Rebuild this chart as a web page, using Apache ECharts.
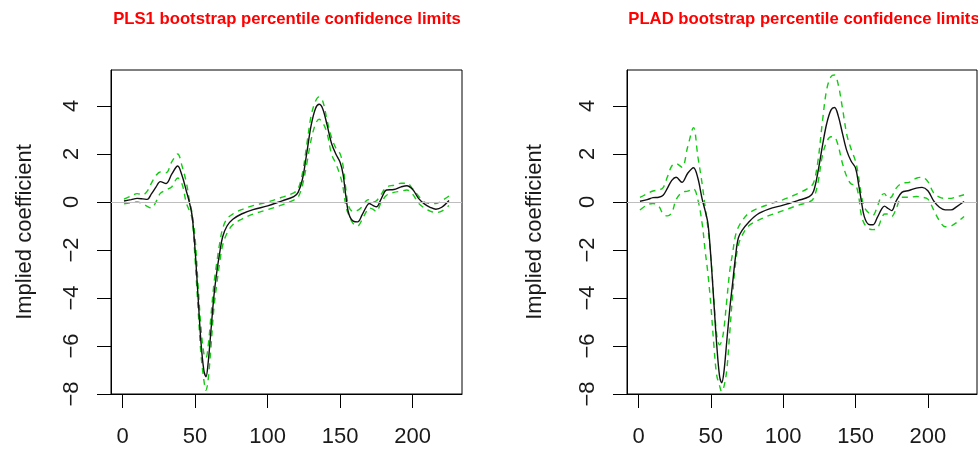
<!DOCTYPE html>
<html>
<head>
<meta charset="utf-8">
<script src="https://cdn.jsdelivr.net/npm/echarts@6/dist/echarts.min.js"></script>
<style>
html,body{margin:0;padding:0;background:#fff;}
#chart{width:978px;height:450px;}
</style>
</head>
<body>
<div id="chart"></div>
<script>
const panelTitles = ['PLS1 bootstrap percentile confidence limits', 'PLAD bootstrap percentile confidence limits'];
const yAxisTitle = 'Implied coefficient';
const xTicks = [0, 50, 100, 150, 200];
const yTicks = [-8, -6, -4, -2, 0, 2, 4];

const xIndex = [1, 6, 10, 14, 17, 20, 23, 26, 30, 34, 38, 41, 44, 46, 48, 50, 52, 54, 56, 57.5, 59, 61, 63, 65, 67, 69, 72, 76, 82, 90, 100, 110, 118, 121, 124, 127, 130, 133, 135.5, 138, 141, 144, 147, 150, 152, 154, 156, 159, 162, 165, 168, 170, 172.5, 175, 178, 182, 187, 192, 196, 200, 204, 208, 212, 216, 220, 225];

const pls1Est = [0.04, 0.1, 0.15, 0.13, 0.11, 0.35, 0.62, 0.85, 0.77, 1.17, 1.5, 1.1, 0.45, 0.0, -0.6, -2.0, -3.9, -5.8, -7.0, -7.28, -6.7, -5.3, -3.9, -2.9, -2.1, -1.45, -1.0, -0.72, -0.5, -0.32, -0.16, 0.05, 0.22, 0.4, 0.95, 2.05, 3.2, 3.9, 4.07, 3.88, 3.2, 2.45, 2.0, 1.65, 1.15, 0.2, -0.5, -0.8, -0.83, -0.55, -0.2, -0.06, -0.14, -0.2, 0.1, 0.5, 0.52, 0.63, 0.68, 0.52, 0.15, -0.08, -0.22, -0.3, -0.22, 0.06];
const pls1Upper = [0.12, 0.25, 0.35, 0.3, 0.45, 0.8, 1.1, 1.25, 1.22, 1.68, 2.0, 1.5, 0.8, 0.1, -0.5, -1.5, -3.4, -5.2, -6.3, -6.5, -6.0, -4.7, -3.4, -2.5, -1.7, -1.1, -0.7, -0.5, -0.32, -0.15, 0.0, 0.2, 0.38, 0.55, 1.2, 2.4, 3.6, 4.2, 4.38, 4.2, 3.4, 2.7, 2.25, 2.0, 1.5, 0.5, -0.2, -0.4, -0.35, -0.2, 0.05, 0.1, 0.0, 0.05, 0.3, 0.62, 0.7, 0.78, 0.78, 0.55, 0.25, 0.0, -0.06, -0.06, 0.05, 0.25];
const pls1Lower = [-0.08, -0.02, 0.0, -0.08, -0.18, -0.25, 0.0, 0.36, 0.5, 0.64, 1.0, 0.75, -0.05, -0.35, -0.7, -2.4, -4.4, -6.3, -7.4, -7.85, -7.4, -6.0, -4.4, -3.4, -2.5, -1.8, -1.3, -0.95, -0.72, -0.5, -0.32, -0.12, 0.08, 0.2, 0.7, 1.6, 2.6, 3.25, 3.45, 3.3, 2.86, 2.0, 1.6, 1.1, 0.6, -0.2, -0.55, -0.9, -1.0, -0.75, -0.4, -0.25, -0.3, -0.4, -0.05, 0.28, 0.4, 0.45, 0.5, 0.32, -0.05, -0.25, -0.38, -0.44, -0.38, -0.15];

const pladEst = [0.03, 0.1, 0.18, 0.2, 0.28, 0.58, 0.9, 1.03, 0.82, 1.2, 1.43, 1.0, 0.12, -0.35, -0.9, -2.3, -4.1, -5.9, -7.25, -7.53, -7.1, -5.8, -4.5, -3.4, -2.3, -1.5, -1.15, -0.85, -0.52, -0.3, -0.13, 0.06, 0.22, 0.45, 1.25, 2.3, 3.25, 3.83, 3.94, 3.6, 2.85, 2.13, 1.7, 1.42, 0.78, 0.05, -0.6, -0.93, -0.95, -0.65, -0.3, -0.17, -0.27, -0.36, 0.03, 0.4, 0.48, 0.58, 0.61, 0.47, 0.05, -0.22, -0.33, -0.33, -0.19, 0.02];
const pladUpper = [0.19, 0.35, 0.46, 0.5, 0.6, 1.05, 1.5, 1.6, 1.45, 2.3, 3.1, 1.9, 0.75, -0.19, -1.1, -2.3, -4.0, -5.5, -5.95, -5.8, -5.3, -4.1, -2.9, -2.14, -1.4, -1.05, -0.75, -0.48, -0.28, -0.1, 0.1, 0.35, 0.6, 0.8, 1.7, 3.28, 4.67, 5.22, 5.29, 4.9, 3.9, 2.8, 2.2, 1.7, 1.1, 0.3, -0.2, -0.45, -0.55, -0.2, 0.28, 0.35, 0.15, 0.22, 0.57, 0.78, 0.82, 0.99, 1.03, 0.85, 0.38, 0.2, 0.15, 0.15, 0.22, 0.3];
const pladLower = [-0.33, -0.12, -0.06, -0.18, -0.5, -0.58, -0.45, 0.1, 0.4, 0.45, 0.55, 0.1, -0.9, -2.0, -3.0, -4.3, -5.9, -7.2, -7.65, -7.9, -7.7, -7.0, -5.5, -3.9, -2.6, -1.8, -1.35, -1.0, -0.78, -0.57, -0.36, -0.14, 0.0, 0.15, 0.8, 1.9, 2.5, 2.72, 2.7, 2.35, 1.6, 1.05, 0.75, 0.7, 0.3, -0.55, -0.9, -1.1, -1.15, -1.1, -0.7, -0.5, -0.5, -0.6, -0.3, 0.2, 0.2, 0.23, 0.2, 0.12, -0.33, -0.78, -1.03, -1.0, -0.85, -0.6];

const FONT = "'Liberation Sans', Arial, Helvetica, sans-serif";
const pair = (xs, ys) => xs.map((x, i) => [x, ys[i]]);
const minusFmt = v => String(v).replace('-', '\u2212');

const grids = [
  { left: 111, top: 70, width: 351, height: 324 },
  { left: 627, top: 70, width: 350, height: 324 }
];
const titleCenters = [282, 799];
const nameGaps = [75, 81];

function xAx(i) {
  return {
    type: 'value', gridIndex: i, min: -7.96, max: 233.96,
    splitLine: { show: false },
    axisLine: { show: true, onZero: false, lineStyle: { color: '#000', width: 1 } },
    axisTick: { show: true, inside: false, length: 14, customValues: xTicks, lineStyle: { color: '#000', width: 1 } },
    axisLabel: { customValues: xTicks, margin: 32, fontSize: 22, fontFamily: FONT, color: '#1a1a1a', hideOverlap: false, showMinLabel: true, showMaxLabel: true }
  };
}
function yAx(i) {
  return {
    type: 'value', gridIndex: i, min: -8, max: 5.5,
    name: yAxisTitle, nameLocation: 'middle', nameGap: nameGaps[i], nameRotate: 90,
    nameTextStyle: { fontSize: 22, fontFamily: FONT, color: '#1a1a1a' },
    splitLine: { show: false },
    axisLine: { show: true, onZero: false, lineStyle: { color: '#000', width: 1 } },
    axisTick: { show: true, inside: false, length: 14, customValues: yTicks, lineStyle: { color: '#000', width: 1 } },
    axisLabel: { customValues: yTicks, rotate: 90, margin: 28, fontSize: 22, fontFamily: FONT, color: '#1a1a1a', formatter: minusFmt, hideOverlap: false, showMinLabel: true, showMaxLabel: true }
  };
}

const panels = [
  { est: pls1Est, up: pls1Upper, lo: pls1Lower },
  { est: pladEst, up: pladUpper, lo: pladLower }
];
const series = [];
panels.forEach((p, i) => {
  series.push({
    type: 'line', xAxisIndex: i, yAxisIndex: i, data: [], silent: true, z: 1,
    markLine: { silent: true, symbol: 'none', label: { show: false },
      lineStyle: { color: '#bebebe', type: 'solid', width: 1.2 }, data: [{ yAxis: 0 }] }
  });
  [p.up, p.lo].forEach(arr => series.push({
    type: 'line', xAxisIndex: i, yAxisIndex: i, data: pair(xIndex, arr),
    showSymbol: false, smooth: 0.35, z: 2,
    lineStyle: { color: '#11cc11', width: 1.4, type: [6, 5] }
  }));
  series.push({
    type: 'line', xAxisIndex: i, yAxisIndex: i, data: pair(xIndex, p.est),
    showSymbol: false, smooth: 0.35, z: 3,
    lineStyle: { color: '#111', width: 1.4 }
  });
});

const chart = echarts.init(document.getElementById('chart'), null, { renderer: 'canvas' });
chart.setOption({
  animation: false,
  backgroundColor: '#fff',
  title: panelTitles.map((t, i) => ({
    text: t, left: titleCenters[i], top: 6, textAlign: 'center',
    textStyle: { color: '#ff0000', fontSize: 16.7, fontWeight: 'bold', fontFamily: FONT }
  })),
  grid: grids.map(g => Object.assign({ show: true, borderColor: '#000', borderWidth: 1, backgroundColor: 'transparent' }, g)),
  xAxis: [xAx(0), xAx(1)],
  yAxis: [yAx(0), yAx(1)],
  series: series
});
</script>
</body>
</html>
